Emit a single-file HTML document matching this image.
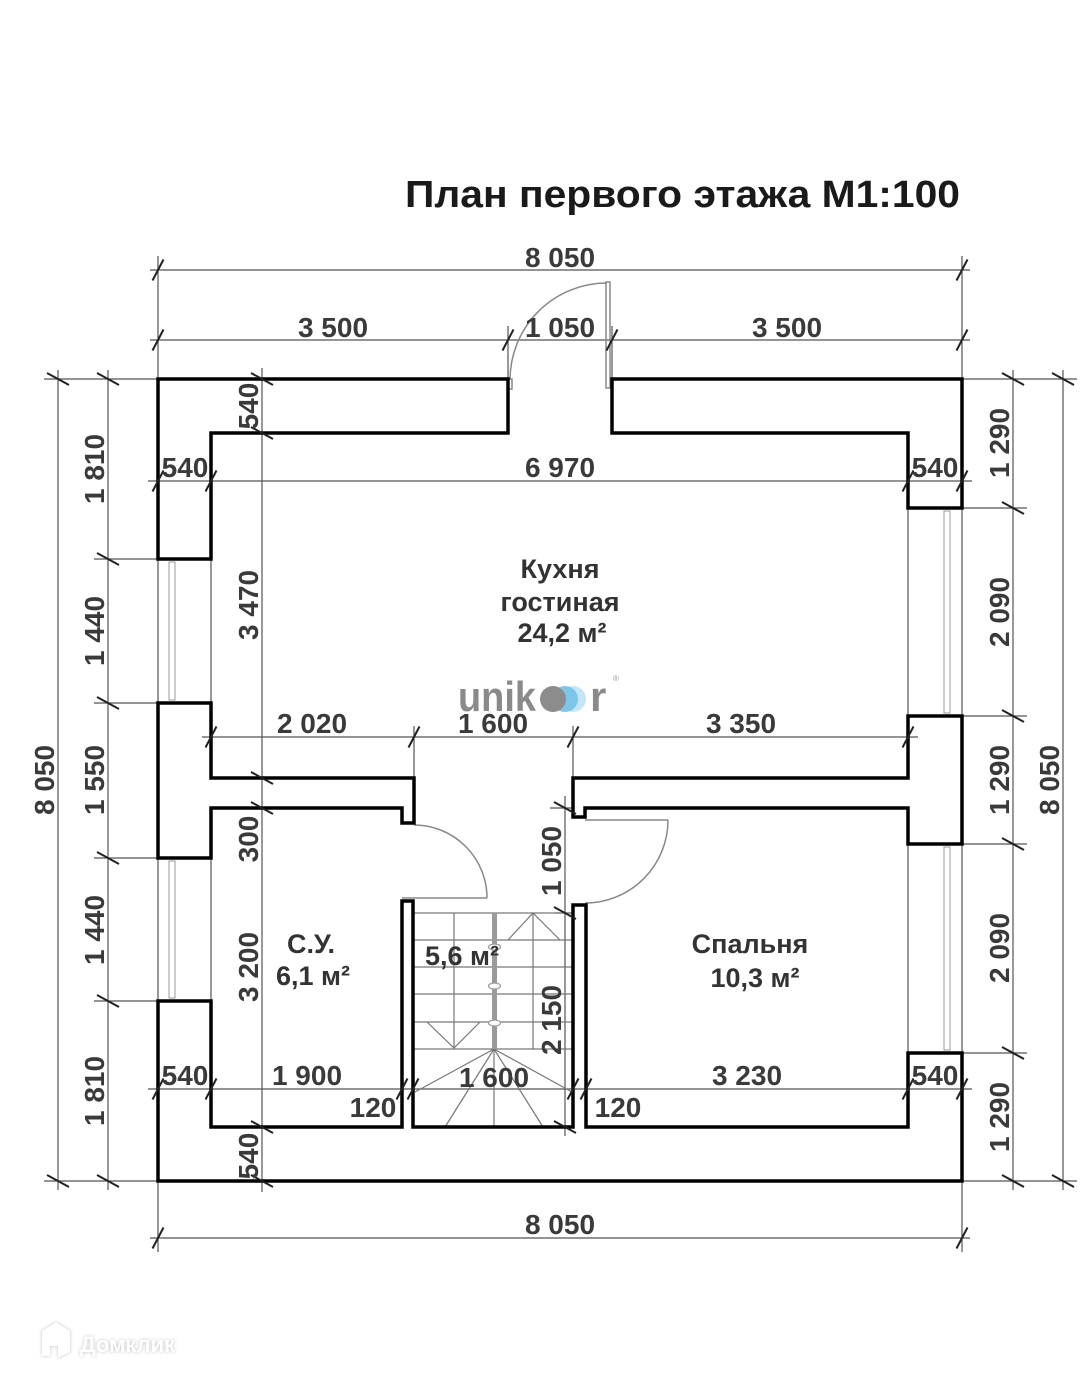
<!DOCTYPE html>
<html><head><meta charset="utf-8">
<style>
html,body{margin:0;padding:0;background:#fff;}
svg{display:block;}
text{font-family:"Liberation Sans",Arial,sans-serif;}
.d{font-size:28px;font-weight:bold;fill:#3a3a3a;text-anchor:middle;}
.r{font-size:27px;font-weight:bold;fill:#333;text-anchor:middle;}
</style></head><body>
<svg width="1080" height="1385" viewBox="0 0 1080 1385" xmlns="http://www.w3.org/2000/svg">
<rect width="1080" height="1385" fill="#fff"/>

<!-- Title -->
<text x="405" y="207" font-size="38" font-weight="bold" fill="#1a1a1a" textLength="555" lengthAdjust="spacingAndGlyphs">План первого этажа М1:100</text>

<!-- thin dimension / extension lines -->
<g stroke="#555" stroke-width="1.2" fill="none">
<path d="M150 270 H970 M158 256 V379 M962 256 V379"/>
<path d="M150 340 H970 M508 326 V390 M612 326 V390"/>
<path d="M58 370 V1190 M108 370 V1190"/>
<path d="M44 379 H158 M44 1181 H158 M94 559 H158 M94 703 H158 M94 858 H158 M94 1001 H158"/>
<path d="M1013 370 V1190 M1063 370 V1190"/>
<path d="M962 379 H1077 M962 1181 H1077 M962 508 H1027 M962 716 H1027 M962 844 H1027 M962 1053 H1027"/>
<path d="M150 1238 H970 M158 1181 V1252 M962 1181 V1252"/>
<path d="M148 481 H972"/>
<path d="M202 737 H918 M414 726 V778 M573 726 V778"/>
<path d="M148 1089 H972"/>
<path d="M262 368 V1192"/>
<path d="M565 796 V1136 M550 808 H573 M555 913 H573"/>
<!-- wall lines at window openings -->
<path d="M158 559 V703 M211 559 V703 M158 858 V1001 M211 858 V1001"/>
<path d="M908 508 V716 M962 508 V716 M908 844 V1053 M962 844 V1053"/>
</g>

<!-- windows -->
<g stroke="#999" stroke-width="1" fill="none">
<rect x="169" y="562" width="6" height="138"/>
<rect x="169" y="861" width="6" height="137"/>
<rect x="944" y="511" width="6" height="202"/>
<rect x="944" y="847" width="6" height="203"/>
</g>

<!-- stairs -->
<g stroke="#777" stroke-width="1.2" fill="none">
<path d="M413 913 H573 M413 940 H573 M413 967 H573 M413 994 H573 M413 1022 H573 M413 1049 H573"/>
<path d="M454 913 V1049 M533 913 V1049"/>
<path d="M494 1049 L415 1092 M494 1049 L445 1127 M494 1049 L494 1127 M494 1049 L543 1127 M494 1049 L572 1092"/>
<polyline points="508,940 533,913 560,940"/>
<polyline points="427,1022 454,1048 480,1022"/>
</g>
<rect x="492" y="913" width="5" height="136" fill="#9a9a9a"/>
<g fill="#fff" stroke="#999" stroke-width="1.2">
<ellipse cx="494.5" cy="947" rx="6" ry="3"/>
<ellipse cx="494.5" cy="986" rx="6" ry="3"/>
<ellipse cx="494.5" cy="1023" rx="6" ry="3"/>
</g>

<!-- doors -->
<g stroke="#888" stroke-width="1.5" fill="none">
<path d="M510 380 A97 97 0 0 1 607 283"/>
<rect x="606" y="282" width="4" height="106"/>
<rect x="508" y="379" width="4" height="10"/>
<path d="M414 825 A73 73 0 0 1 487 898 M402 898 H487"/>
<path d="M668 820 A83 83 0 0 1 585 903 M585 820 H668"/>
</g>

<!-- walls -->
<g stroke="#000" stroke-width="3.5" fill="none" stroke-linejoin="miter">
<polygon points="158,379 508,379 508,433 211,433 211,559 158,559"/>
<polygon points="612,379 962,379 962,508 908,508 908,433 612,433"/>
<polygon points="158,703 211,703 211,778 414,778 414,823 402,823 402,808 211,808 211,858 158,858"/>
<polygon points="573,778 908,778 908,716 962,716 962,844 908,844 908,808 585,808 585,817 573,817"/>
<polygon points="158,1001 211,1001 211,1127 402,1127 402,901 413,901 413,1127 573,1127 573,905 586,905 586,1127 908,1127 908,1053 962,1053 962,1181 158,1181"/>
</g>

<!-- ticks -->
<g stroke="#222" stroke-width="2">
<!-- horizontal dims -->
<path d="M152.5 280.5 L163.5 259.5 M956.5 280.5 L967.5 259.5"/>
<path d="M152.5 350.5 L163.5 329.5 M502.5 350.5 L513.5 329.5 M606.5 350.5 L617.5 329.5 M956.5 350.5 L967.5 329.5"/>
<path d="M152.5 491.5 L163.5 470.5 M205.5 491.5 L216.5 470.5 M902.5 491.5 L913.5 470.5 M956.5 491.5 L967.5 470.5"/>
<path d="M205.5 747.5 L216.5 726.5 M408.5 747.5 L419.5 726.5 M567.5 747.5 L578.5 726.5 M902.5 747.5 L913.5 726.5"/>
<path d="M152.5 1099.5 L163.5 1078.5 M205.5 1099.5 L216.5 1078.5 M396.5 1099.5 L407.5 1078.5 M407.5 1099.5 L418.5 1078.5 M567.5 1099.5 L578.5 1078.5 M580.5 1099.5 L591.5 1078.5 M902.5 1099.5 L913.5 1078.5 M956.5 1099.5 L967.5 1078.5"/>
<path d="M152.5 1248.5 L163.5 1227.5 M956.5 1248.5 L967.5 1227.5"/>
<!-- vertical dims -->
<path d="M47 373 L69 385 M47 1175 L69 1187"/>
<path d="M97 373 L119 385 M97 553 L119 565 M97 697 L119 709 M97 852 L119 864 M97 995 L119 1007 M97 1175 L119 1187"/>
<path d="M1002 373 L1024 385 M1002 502 L1024 514 M1002 710 L1024 722 M1002 838 L1024 850 M1002 1047 L1024 1059 M1002 1175 L1024 1187"/>
<path d="M1052 373 L1074 385 M1052 1175 L1074 1187"/>
<path d="M251 373 L273 385 M251 427 L273 439 M251 772 L273 784 M251 802 L273 814 M251 1121 L273 1133 M251 1175 L273 1187"/>
<path d="M554 802 L576 814 M554 907 L576 919 M554 1121 L576 1133"/>
</g>

<!-- horizontal dimension text -->
<text class="d" x="560" y="267">8 050</text>
<text class="d" x="333" y="337">3 500</text>
<text class="d" x="560" y="337">1 050</text>
<text class="d" x="787" y="337">3 500</text>
<text class="d" x="185" y="477">540</text>
<text class="d" x="560" y="477">6 970</text>
<text class="d" x="935" y="477">540</text>
<text class="d" x="312" y="733">2 020</text>
<text class="d" x="493" y="733">1 600</text>
<text class="d" x="741" y="733">3 350</text>
<text class="d" x="185" y="1085">540</text>
<text class="d" x="307" y="1085">1 900</text>
<text class="d" x="494" y="1087">1 600</text>
<text class="d" x="747" y="1085">3 230</text>
<text class="d" x="935" y="1085">540</text>
<text class="d" x="373" y="1117">120</text>
<text class="d" x="618" y="1117">120</text>
<text class="d" x="560" y="1234">8 050</text>

<!-- vertical dimension text -->
<text class="d" transform="translate(54,780) rotate(-90)">8 050</text>
<text class="d" transform="translate(104,469) rotate(-90)">1 810</text>
<text class="d" transform="translate(104,631) rotate(-90)">1 440</text>
<text class="d" transform="translate(104,780) rotate(-90)">1 550</text>
<text class="d" transform="translate(104,930) rotate(-90)">1 440</text>
<text class="d" transform="translate(104,1091) rotate(-90)">1 810</text>
<text class="d" transform="translate(258,406) rotate(-90)">540</text>
<text class="d" transform="translate(258,605) rotate(-90)">3 470</text>
<text class="d" transform="translate(258,839) rotate(-90)">300</text>
<text class="d" transform="translate(258,967) rotate(-90)">3 200</text>
<text class="d" transform="translate(258,1156) rotate(-90)">540</text>
<text class="d" transform="translate(561,861) rotate(-90)">1 050</text>
<text class="d" transform="translate(561,1020) rotate(-90)">2 150</text>
<text class="d" transform="translate(1009,443) rotate(-90)">1 290</text>
<text class="d" transform="translate(1009,612) rotate(-90)">2 090</text>
<text class="d" transform="translate(1009,780) rotate(-90)">1 290</text>
<text class="d" transform="translate(1009,948) rotate(-90)">2 090</text>
<text class="d" transform="translate(1009,1117) rotate(-90)">1 290</text>
<text class="d" transform="translate(1059,780) rotate(-90)">8 050</text>

<!-- room labels -->
<text class="r" x="560" y="578">Кухня</text>
<text class="r" x="560" y="611">гостиная</text>
<text class="r" x="562" y="642">24,2 м²</text>
<text class="r" x="311" y="953">С.У.</text>
<text class="r" x="313" y="985">6,1 м²</text>
<text class="r" x="750" y="953">Спальня</text>
<text class="r" x="755" y="987">10,3 м²</text>
<text class="r" x="462" y="965">5,6 м²</text>

<!-- unikor logo -->
<text x="458" y="711" font-size="42" font-weight="bold" fill="#8a8a8a" textLength="78" lengthAdjust="spacingAndGlyphs">unik</text>
<circle cx="573" cy="699" r="13" fill="#c4e6f6"/>
<circle cx="565" cy="699" r="13" fill="#7cc6ea"/>
<circle cx="553" cy="699" r="13" fill="#8c8c8c"/>
<text x="590" y="711" font-size="42" font-weight="bold" fill="#8a8a8a">r</text>
<text x="613" y="681" font-size="8" fill="#999">®</text>

<!-- Domklik watermark -->
<g style="filter:drop-shadow(0 0 1.5px rgba(0,0,0,0.25))">
<path d="M42 1331 L56 1322 L70 1331 L70 1352 L58 1358 L58 1346 L50 1346 L50 1356 L42 1356 Z" fill="#fff"/>
<text x="80" y="1352" font-size="22" font-weight="bold" fill="#fff">Домклик</text>
</g>
</svg>
</body></html>
